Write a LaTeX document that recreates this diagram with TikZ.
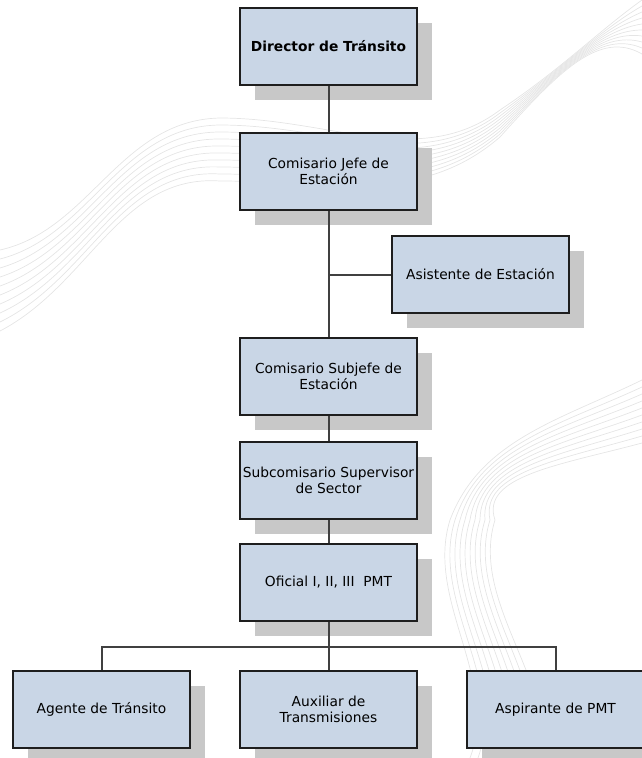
\documentclass[tikz,border=0pt]{standalone}
\usepackage{fontspec}
\setmainfont{DejaVu Sans}
\usetikzlibrary{shadows}

\definecolor{cajaazul}{HTML}{C9D6E6}
\definecolor{sombra}{HTML}{C8C8C8}
\definecolor{borde}{HTML}{1E1E1E}

\tikzset{
  puesto/.style={draw=borde, line width=1.4pt, fill=cajaazul,
    minimum width=177pt, minimum height=77pt, inner sep=0pt, align=center,
    font=\fontsize{13.8}{16.5}\selectfont,
    drop shadow={shadow xshift=15pt, shadow yshift=-15pt, fill=sombra, opacity=1}},
  linea/.style={draw=borde!85, line width=2pt},
  onda/.style={draw=black!10, line width=0.7pt}
}

\begin{document}
\begin{tikzpicture}[x=1pt, y=-1pt]
    \useasboundingbox (0,0) rectangle (642,758);

    \foreach \i in {0,...,9} {
      \draw[onda] (0,250+\i*9) .. controls (90,230+\i*6) and (120,120+\i*6) .. (220,118+\i*7)
        .. controls (330,118+\i*7) and (420,170+\i*4) .. (500,110+\i*3)
        .. controls (560,70) and (600,30) .. (642,\i*6);
      \draw[onda] (642,380+\i*7) .. controls (560,420+\i*5) and (480,440+\i*4) .. (450+\i*5,520)
        .. controls (425+\i*5,600) and (500+\i*6,680) .. (470+\i*8,758);
    }

    \node[puesto] (director) at (328.5,46.5) {\textbf{Director de Tránsito}};
    \node[puesto] (jefe) at (328.5,171.5) {Comisario Jefe de\\Estación};
    \node[puesto] (asistente) at (480.5,274.5) {Asistente de Estación};
    \node[puesto] (subjefe) at (328.5,376.5) {Comisario Subjefe de\\Estación};
    \node[puesto] (supervisor) at (328.5,480.5) {Subcomisario Supervisor\\de Sector};
    \node[puesto] (oficial) at (328.5,582.5) {Oficial I, II, III\ \ PMT};
    \node[puesto] (agente) at (101.5,709.5) {Agente de Tránsito};
    \node[puesto] (auxiliar) at (328.5,709.5) {Auxiliar de\\Transmisiones};
    \node[puesto] (aspirante) at (555.5,709.5) {Aspirante de PMT};
    \coordinate (bus) at (328.5,647);

    \draw[linea] (director) -- (jefe);
    \draw[linea] (jefe) -- (subjefe);
    \draw[linea] (asistente.west) -- (jefe.south |- asistente.west);
    \draw[linea] (subjefe) -- (supervisor);
    \draw[linea] (supervisor) -- (oficial);
    \draw[linea] (oficial) -- (auxiliar);
    \draw[linea] (agente.north) |- (bus) -| (aspirante.north);
  \end{tikzpicture}
\end{document}
